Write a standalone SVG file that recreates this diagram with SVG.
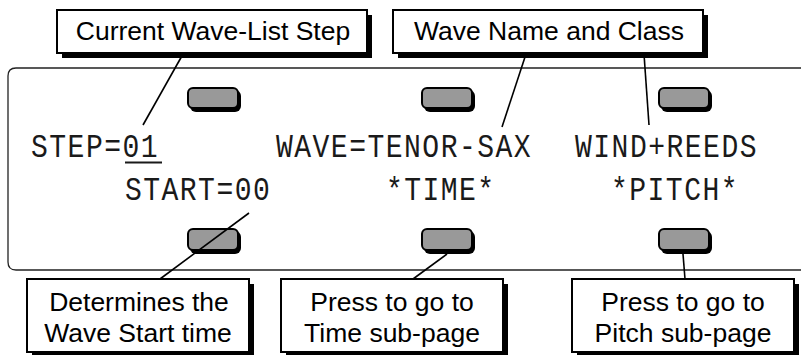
<svg xmlns="http://www.w3.org/2000/svg" width="801" height="355" viewBox="0 0 801 355">
<style>
.bg{fill:#fff}
.panel{fill:none;stroke:#222;stroke-width:1.3}
.shadow{fill:#000}
.box{fill:#fff;stroke:#000;stroke-width:2}
.lbl{font-family:"Liberation Sans",Arial,sans-serif;font-size:26.5px;fill:#000;text-anchor:middle}
.lcd{font-family:"Liberation Mono","DejaVu Sans Mono",monospace;font-size:33px;fill:#1a1a1a;letter-spacing:1.73px}
.btn{fill:#999;stroke:#000;stroke-width:2}
.btnsh{fill:#000}
.conn{stroke:#000;stroke-width:1.6;fill:none}
</style>
<rect class="bg" x="0" y="0" width="801" height="355"/>
<g id="display">
<path class="panel" d="M801,68 H16 Q8,68 8,76 V262 Q8,270 16,270 H801"/>
<g transform="scale(0.85,1)">
<text class="lcd" x="36.5" y="157">STEP=01</text>
<text class="lcd" x="324.7" y="157">WAVE=TENOR-SAX</text>
<text class="lcd" x="676.5" y="157">WIND+REEDS</text>
<text class="lcd" x="147" y="200">START=00</text>
<text class="lcd" x="454" y="200">*TIME*</text>
<text class="lcd" x="718.8" y="200">*PITCH*</text>
</g>
<line x1="125" y1="162.5" x2="162" y2="162.5" stroke="#1a1a1a" stroke-width="2"/>
</g>
<g id="buttons">
<g id="btn-top-1"><rect class="btnsh" x="190" y="90" width="51" height="22" rx="6"/><rect class="btn" x="188" y="88" width="50" height="20" rx="5"/></g>
<g id="btn-top-2"><rect class="btnsh" x="424" y="90" width="51" height="22" rx="6"/><rect class="btn" x="422" y="88" width="50" height="20" rx="5"/></g>
<g id="btn-top-3"><rect class="btnsh" x="661" y="90" width="51" height="22" rx="6"/><rect class="btn" x="659" y="88" width="50" height="20" rx="5"/></g>
<g id="btn-bot-1"><rect class="btnsh" x="190" y="231" width="51" height="23" rx="6"/><rect class="btn" x="188" y="229" width="50" height="21" rx="5"/></g>
<g id="btn-bot-2"><rect class="btnsh" x="424" y="231" width="51" height="23" rx="6"/><rect class="btn" x="422" y="229" width="50" height="21" rx="5"/></g>
<g id="btn-bot-3"><rect class="btnsh" x="661" y="231" width="51" height="23" rx="6"/><rect class="btn" x="659" y="229" width="50" height="21" rx="5"/></g>
</g>
<g id="connectors">
<line class="conn" x1="183" y1="54" x2="143" y2="125"/>
<line class="conn" x1="526" y1="54" x2="502" y2="127"/>
<line class="conn" x1="644" y1="54" x2="649" y2="125"/>
<line class="conn" x1="249" y1="213" x2="160" y2="279"/>
<line class="conn" x1="447" y1="254" x2="413" y2="279"/>
<line class="conn" x1="683" y1="254" x2="685" y2="279"/>
</g>
<g id="label-step">
<rect class="shadow" x="62" y="15" width="310" height="43"/>
<rect class="box" x="57" y="10" width="310" height="43"/>
<text class="lbl" x="213" y="40">Current Wave-List Step</text>
</g>
<g id="label-wave">
<rect class="shadow" x="398" y="15" width="310" height="43"/>
<rect class="box" x="393" y="10" width="310" height="43"/>
<text class="lbl" x="549" y="40">Wave Name and Class</text>
</g>
<g id="label-start">
<rect class="shadow" x="32" y="284" width="222" height="73"/>
<rect class="box" x="27" y="279" width="222" height="73"/>
<text class="lbl" x="139" y="311">Determines the</text>
<text class="lbl" x="138" y="342">Wave Start time</text>
</g>
<g id="label-time">
<rect class="shadow" x="286" y="284" width="222" height="73"/>
<rect class="box" x="281" y="279" width="222" height="73"/>
<text class="lbl" x="392" y="311">Press to go to</text>
<text class="lbl" x="392" y="342">Time sub-page</text>
</g>
<g id="label-pitch">
<rect class="shadow" x="577" y="284" width="222" height="73"/>
<rect class="box" x="572" y="279" width="222" height="73"/>
<text class="lbl" x="683" y="311">Press to go to</text>
<text class="lbl" x="683" y="342">Pitch sub-page</text>
</g>
</svg>
